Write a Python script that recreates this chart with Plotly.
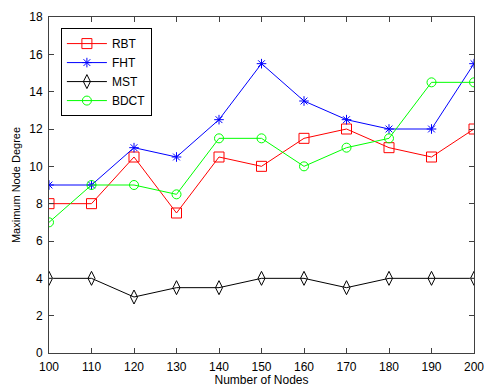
import plotly.graph_objects as go

nodes = [100, 110, 120, 130, 140, 150, 160, 170, 180, 190, 200]
rbt = [8, 8, 10.5, 7.5, 10.5, 10, 11.5, 12, 11, 10.5, 12]
fht = [9, 9, 11, 10.5, 12.5, 15.5, 13.5, 12.5, 12, 12, 15.5]
mst = [4, 4, 3, 3.5, 3.5, 4, 4, 3.5, 4, 4, 4]
bdct = [7, 9, 9, 8.5, 11.5, 11.5, 10, 11, 11.5, 14.5, 14.5]

series = [
    ("RBT", rbt, "#ff0000", "square-open", 10),
    ("FHT", fht, "#0000ff", "asterisk-open", 8),
    ("MST", mst, "#000000", "diamond-tall-open", 10),
    ("BDCT", bdct, "#00ff00", "circle-open", 9),
]

fig = go.Figure()
for name, vals, col, sym, sz in series:
    fig.add_trace(go.Scatter(
        x=nodes, y=vals, name=name, mode="lines+markers",
        line=dict(color=col, width=1),
        marker=dict(symbol=sym, size=sz, color=col, line=dict(color=col, width=1)),
    ))

axis_common = dict(
    showgrid=False, zeroline=False, showline=True, mirror="ticks",
    linecolor="#404040", linewidth=1, ticks="inside", ticklen=5,
    tickcolor="#404040", automargin=False, ticklabeloverflow="allow",
    tickfont=dict(family="Liberation Sans, Arial", size=12, color="#000"),
)

fig.update_xaxes(range=[100, 200], tickvals=nodes, ticklabelstandoff=3,
                 title=dict(text="Number of Nodes", standoff=2,
                            font=dict(family="Liberation Sans, Arial", size=12, color="#000")), **axis_common)
fig.update_yaxes(range=[0, 18], tickvals=list(range(0, 19, 2)), ticklabelstandoff=3,
                 title=dict(text="Maximum Node Degree", standoff=6,
                            font=dict(family="Liberation Sans, Arial", size=11, color="#000")), **axis_common)

fig.update_layout(
    width=484, height=387,
    margin=dict(l=49, r=10, t=17, b=34),
    plot_bgcolor="white", paper_bgcolor="white",
    legend=dict(x=0.028, y=0.967, xanchor="left", yanchor="top",
                bordercolor="#000", borderwidth=1, bgcolor="white",
                font=dict(family="Liberation Sans, Arial", size=12, color="#000"),
                tracegroupgap=0, itemwidth=40),
)

fig.write_html("out.html")
